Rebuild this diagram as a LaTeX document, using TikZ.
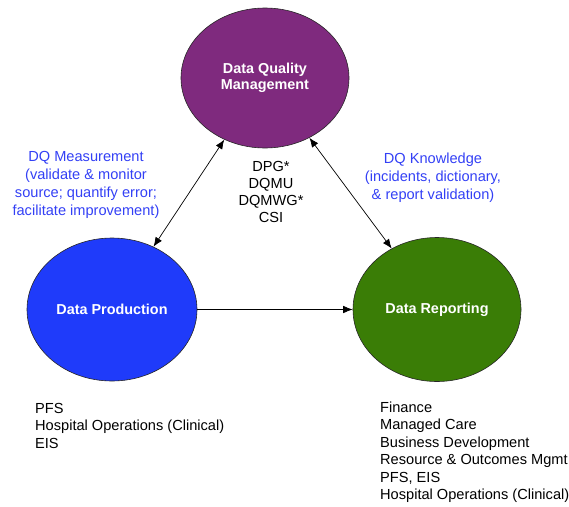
\documentclass[tikz,border=0pt]{standalone}
\usepackage{fontspec}
\setmainfont{Liberation Sans}
\usetikzlibrary{shapes.geometric,arrows.meta}
\definecolor{dqpurple}{HTML}{7F2A7E}
\definecolor{dqblue}{HTML}{1F3BFA}
\definecolor{dqgreen}{HTML}{3A7D06}
\definecolor{notetext}{HTML}{3340F5}
\begin{document}
\begin{tikzpicture}[x=1pt,y=-1pt,
  >={Latex[length=9.5pt,width=7.5pt]},
  area/.style={ellipse,draw=black!85,line width=0.6pt,text=white,
    font=\bfseries\fontsize{14.4}{16.5}\selectfont,align=center,inner sep=0pt},
  note/.style={text=notetext,font=\fontsize{14.6}{18}\selectfont,align=center,inner sep=0pt},
  plain/.style={font=\fontsize{14.6}{17.5}\selectfont,inner sep=0pt},
  link/.style={line width=0.7pt}]
\useasboundingbox (0,0) rectangle (569,506);

% the three areas
\node[area,fill=dqpurple,minimum width=168pt,minimum height=140pt] (dqm) at (265,78) {Data Quality\\Management};
\node[area,fill=dqblue,minimum width=170pt,minimum height=143pt] (prod) at (112,309.5) {Data Production};
\node[area,fill=dqgreen,minimum width=168pt,minimum height=144pt] (rep) at (437,309.5) {Data Reporting};

% connectors
\draw[link,<->] (dqm) -- (prod);
\draw[link,<->] (dqm) -- (rep);
\draw[link,->] (prod) -- (rep);

% annotations
\node[note] (meas) at (86,185) {DQ Measurement\\(validate \& monitor\\source; quantify error;\\facilitate improvement)};
\node[note] (know) at (433,178) {DQ Knowledge\\(incidents, dictionary,\\\& report validation)};
\node[plain,align=center,font=\fontsize{14.6}{17.3}\selectfont] (groups) at (271,192) {DPG*\\DQMU\\DQMWG*\\CSI};

% units under each area
\node[plain,align=left,anchor=west] (produnits) at (35,425.5) {PFS\\Hospital Operations (Clinical)\\EIS};
\node[plain,align=left,anchor=west] (repunits) at (380,452) {Finance\\Managed Care\\Business Development\\Resource \& Outcomes Mgmt\\PFS, EIS\\Hospital Operations (Clinical)};
\end{tikzpicture}
\end{document}
